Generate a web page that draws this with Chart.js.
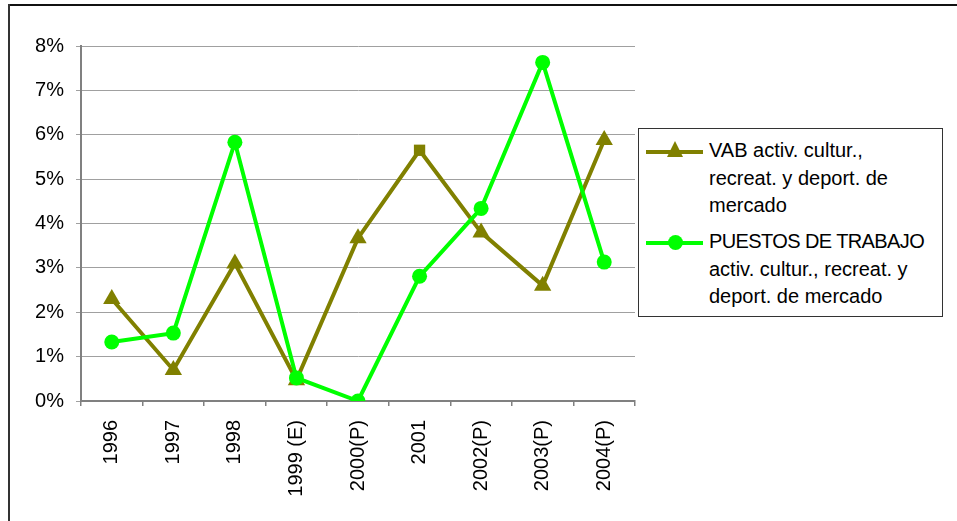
<!DOCTYPE html>
<html>
<head>
<meta charset="utf-8">
<script src="https://cdn.jsdelivr.net/npm/chart.js@4"></script>
<style>
  html, body { margin: 0; padding: 0; background: #fff; }
  #wrap { position: relative; width: 957px; height: 521px; overflow: hidden; font-family: "Liberation Sans", Arial, sans-serif; }
  #frameTop { position: absolute; left: 8px; top: 4px; width: 949px; height: 2px; background: #111; }
  #frameLeft { position: absolute; left: 8px; top: 4px; width: 2px; height: 517px; background: #333; }
  #legend { position: absolute; left: 638px; top: 128px; width: 303px; height: 187px; border: 1px solid #333; background: #fff; }
  .entry { position: absolute; left: 0; }
  .sample { position: absolute; left: 7px; width: 57px; height: 4px; }
  .txt { position: absolute; left: 70px; font-size: 20px; line-height: 27.5px; color: #000; white-space: nowrap; }
  .tri { position: absolute; left: 21px; top: -9px; width: 0; height: 0; border-left: 8px solid transparent; border-right: 8px solid transparent; border-bottom: 16px solid #808000; }
  .dot { position: absolute; left: 22px; top: -6px; width: 15px; height: 15px; border-radius: 50%; background: #00ff00; }
</style>
</head>
<body>
<div id="wrap">
  <canvas id="chart" width="957" height="521"></canvas>
  <div id="frameTop"></div>
  <div id="frameLeft"></div>
  <div id="legend">
    <div class="entry" style="top:0">
      <div class="sample" style="top:21px;background:#808000"><div class="tri"></div></div>
      <div class="txt" style="top:8px">VAB activ. cultur.,<br>recreat. y deport. de<br>mercado</div>
    </div>
    <div class="entry" style="top:0">
      <div class="sample" style="top:112px;background:#00ff00"><div class="dot"></div></div>
      <div class="txt" style="top:99px;letter-spacing:-0.6px">PUESTOS DE TRABAJO</div>
      <div class="txt" style="top:126.5px">activ. cultur., recreat. y<br>deport. de mercado</div>
    </div>
  </div>
</div>
<script>
// Annual growth, percent
const years = ['1996', '1997', '1998', '1999 (E)', '2000(P)', '2001', '2002(P)', '2003(P)', '2004(P)'];
const vabValues = [2.3, 0.7, 3.1, 0.47, 3.67, 5.65, 3.8, 2.6, 5.88];
const empleoValues = [1.33, 1.53, 5.83, 0.52, 0.0, 2.81, 4.34, 7.63, 3.13];
const vabMarkers = ['triangle', 'triangle', 'triangle', 'triangle', 'triangle', 'rect', 'triangle', 'triangle', 'triangle'];
const yTicks = [0, 1, 2, 3, 4, 5, 6, 7, 8];

const font = { family: '"Liberation Sans", Arial, sans-serif', size: 20 };

new Chart(document.getElementById('chart'), {
  type: 'line',
  data: {
    labels: years,
    datasets: [
      {
        label: 'VAB activ. cultur., recreat. y deport. de mercado',
        data: vabValues,
        borderColor: '#808000',
        backgroundColor: '#808000',
        borderWidth: 4,
        pointStyle: vabMarkers,
        pointRadius: vabMarkers.map(m => m === 'rect' ? 8 : 10),
        pointBorderWidth: 0,
        tension: 0,
        order: 1
      },
      {
        label: 'PUESTOS DE TRABAJO activ. cultur., recreat. y deport. de mercado',
        data: empleoValues,
        borderColor: '#00ff00',
        backgroundColor: '#00ff00',
        borderWidth: 4,
        pointStyle: 'circle',
        pointRadius: 7.5,
        pointBorderWidth: 0,
        tension: 0,
        order: 0
      }
    ]
  },
  options: {
    responsive: false,
    animation: false,
    layout: { padding: { left: 0, top: 46, right: 322, bottom: 0 } },
    plugins: { legend: { display: false }, tooltip: { enabled: false } },
    scales: {
      x: {
        offset: true,
        grid: { offset: true, drawOnChartArea: false, color: '#808080', tickLength: 5, lineWidth: 1.5 },
        border: { color: '#808080', width: 2 },
        ticks: { font, color: '#000', minRotation: 90, maxRotation: 90, padding: 14, autoSkip: false },
        afterFit: s => { s.height = 120; }
      },
      y: {
        min: 0,
        max: 8,
        afterBuildTicks: s => { s.ticks = yTicks.map(v => ({ value: v })); },
        grid: { color: '#a0a0a0', tickLength: 5, lineWidth: 1 },
        border: { color: '#808080', width: 2 },
        ticks: { font, color: '#000', padding: 12, callback: v => v + '%' },
        afterFit: s => { s.width = 81; }
      }
    }
  }
});
</script>
</body>
</html>
